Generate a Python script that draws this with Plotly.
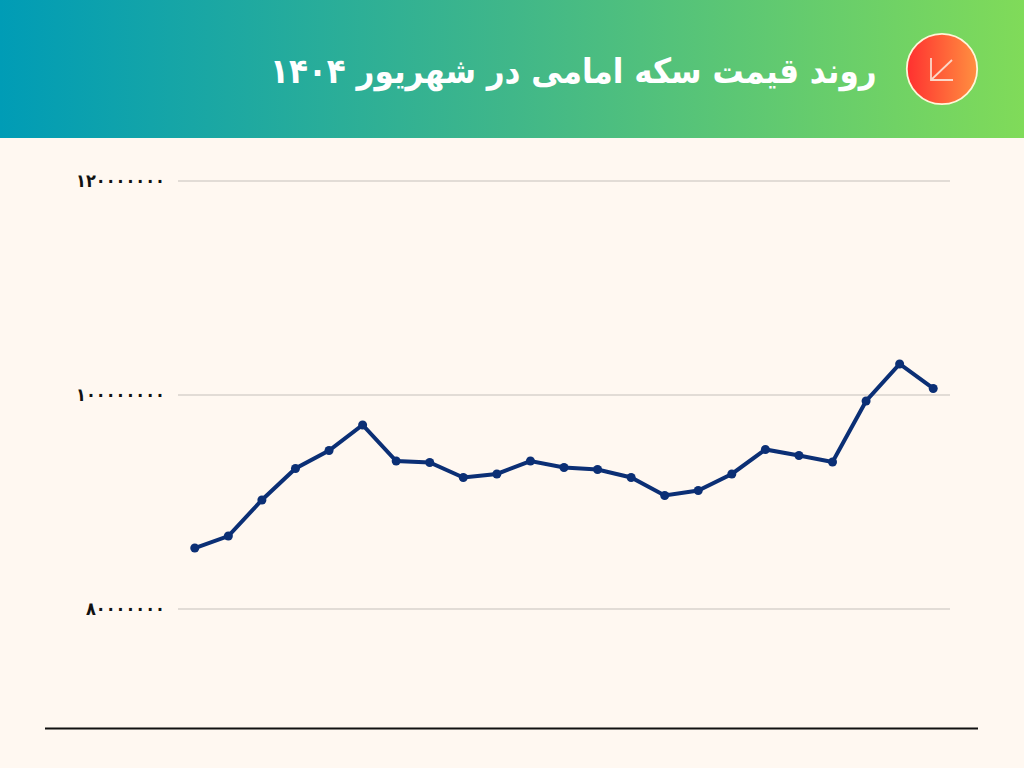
import base64
import plotly.graph_objects as go

days = ["۱", "۲", "۳", "۴", "۵", "۶", "۷", "۸", "۹", "۱۰", "۱۱", "۱۲",
        "۱۳", "۱۴", "۱۵", "۱۶", "۱۷", "۱۸", "۱۹", "۲۰", "۲۱", "۲۲", "۲۳"]
prices = [85700000, 86820000, 90190000, 93130000, 94810000, 97200000,
          93830000, 93690000, 92290000, 92620000, 93830000, 93220000,
          93040000, 92290000, 90610000, 91070000, 92620000, 94910000,
          94350000, 93740000, 99440000, 102900000, 100610000]
tick_values = [80000000, 100000000, 120000000]
tick_labels = ["۸۰۰۰۰۰۰۰", "۱۰۰۰۰۰۰۰۰", "۱۲۰۰۰۰۰۰۰"]
title_text = "روند قیمت سکه امامی در شهریور ۱۴۰۴"
y_range = [78971963, 121028037]

W, H = 1024, 768
L, R, T, B = 178, 950, 170, 620
PW, PH = R - L, B - T


def px(x):
    return (x - L) / PW


def py(y):
    return 1 - (y - T) / PH


def svg_uri(svg):
    return "data:image/svg+xml;base64," + base64.b64encode(svg.encode()).decode()


header_svg = (
    '<svg xmlns="http://www.w3.org/2000/svg" width="1024" height="138" viewBox="0 0 1024 138" preserveAspectRatio="none">'
    '<defs><linearGradient id="g" x1="0" y1="0" x2="1" y2="0">'
    '<stop offset="0" stop-color="#009CB6"/><stop offset="0.5" stop-color="#40B789"/>'
    '<stop offset="1" stop-color="#80DB59"/></linearGradient></defs>'
    '<rect width="1024" height="138" fill="url(#g)"/></svg>'
)
icon_svg = (
    '<svg xmlns="http://www.w3.org/2000/svg" width="74" height="74" viewBox="0 0 74 74">'
    '<defs><linearGradient id="r" x1="0" y1="0" x2="1" y2="0">'
    '<stop offset="0" stop-color="#FF3030"/><stop offset="1" stop-color="#FF9040"/></linearGradient></defs>'
    '<circle cx="37" cy="37" r="35.2" fill="url(#r)" stroke="#FFF6D8" stroke-width="1.8"/></svg>'
)

fig = go.Figure(
    go.Scatter(
        x=days,
        y=prices,
        mode="lines+markers",
        line=dict(color="#0B2F75", width=4),
        marker=dict(color="#0B2F75", size=9),
        cliponaxis=False,
        hoverinfo="skip",
    )
)

fig.update_layout(
    width=W,
    height=H,
    autosize=False,
    margin=dict(l=L, r=W - R, t=T, b=H - B, pad=0),
    paper_bgcolor="#FFF8F1",
    plot_bgcolor="#FFF8F1",
    showlegend=False,
    xaxis=dict(type="category", range=[-0.5, 22.5], showgrid=False, zeroline=False,
               showline=False, showticklabels=False, ticks=""),
    yaxis=dict(range=y_range, tickmode="array", tickvals=tick_values,
               ticktext=tick_labels, showgrid=True, gridcolor="#E2DCD6", gridwidth=1.5,
               zeroline=False, showline=False, ticks="", ticklabelstandoff=12,
               tickfont=dict(family="DejaVu Sans Condensed", size=18, color="#111111", weight="bold")),
    images=[
        dict(source=svg_uri(header_svg), xref="paper", yref="paper", x=px(0), y=py(0),
             sizex=W / PW, sizey=138 / PH, sizing="stretch", xanchor="left", yanchor="top",
             layer="below"),
        dict(source=svg_uri(icon_svg), xref="paper", yref="paper", x=px(905), y=py(32),
             sizex=74 / PW, sizey=74 / PH, sizing="stretch", xanchor="left", yanchor="top",
             layer="below"),
    ],
    shapes=[
        dict(type="line", xref="paper", yref="paper", x0=px(45), x1=px(978), y0=py(728.5), y1=py(728.5),
             line=dict(color="#111111", width=2)),
        dict(type="path", xref="paper", yref="paper",
             path=f"M {px(931)} {py(58)} L {px(931)} {py(80)} L {px(953)} {py(80)}",
             line=dict(color="#FBD8C8", width=1.8)),
        dict(type="line", xref="paper", yref="paper", x0=px(931), x1=px(952), y0=py(80), y1=py(60),
             line=dict(color="#FBD8C8", width=1.8)),
    ],
    annotations=[
        dict(text=title_text, xref="paper", yref="paper", x=px(879), y=py(72),
             xanchor="right", yanchor="middle", showarrow=False,
             font=dict(family="DejaVu Sans Condensed", size=34.5, color="#FFFFFF", weight="bold")),
    ],
)

fig.write_html("out.html", config={"displayModeBar": False},
               post_script="document.body.style.margin='0';document.body.style.overflow='hidden';")
